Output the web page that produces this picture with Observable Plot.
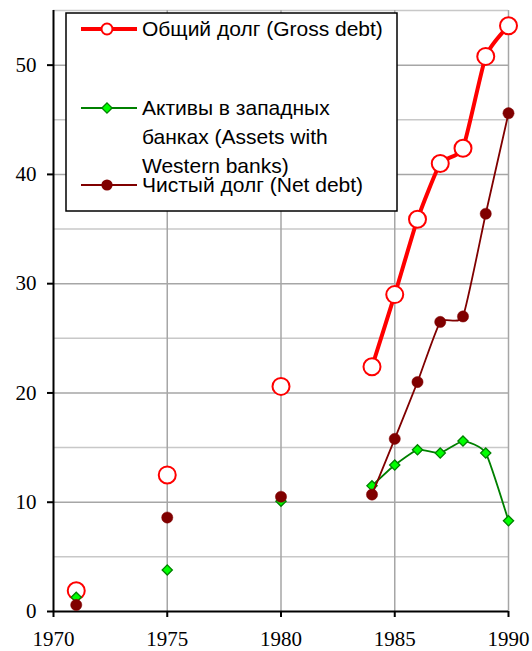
<!DOCTYPE html>
<html>
<head>
<meta charset="utf-8">
<script src="https://cdn.jsdelivr.net/npm/d3@7"></script>
<script src="https://cdn.jsdelivr.net/npm/@observablehq/plot@0.6"></script>
<style>
  html, body { margin: 0; padding: 0; background: white; }
  #chart { width: 532px; height: 651px; overflow: hidden; }
</style>
</head>
<body>
<div id="chart"></div>
<script>
// ---- data ----
const years = [1971, 1975, 1980, 1984, 1985, 1986, 1987, 1988, 1989, 1990];
const grossDebt = [1.9, 12.5, 20.6, 22.4, 29.0, 35.9, 41.0, 42.4, 50.8, 53.6];
const assetsWest = [1.3, 3.8, 10.1, 11.5, 13.4, 14.8, 14.5, 15.6, 14.5, 8.3];
const netDebt = [0.6, 8.6, 10.5, 10.7, 15.8, 21.0, 26.5, 27.0, 36.4, 45.6];
const lineStartYear = 1984;

const xTicks = [1970, 1975, 1980, 1985, 1990];
const xGrid = [1975, 1980, 1985, 1990];
const yTicks = [0, 10, 20, 30, 40, 50];
const yMajorGrid = [10, 20, 30, 40, 50];
const yMinorGrid = [5, 15, 25, 35, 45, 55];

const grossLabel = ["Общий долг (Gross debt)"];
const assetsLabel = ["Активы в западных", "банках (Assets with", "Western banks)"];
const netLabel = ["Чистый долг (Net debt)"];

// ---- tables ----
const gross = years.map((year, i) => ({year, value: grossDebt[i]}));
const assets = years.map((year, i) => ({year, value: assetsWest[i]}));
const net = years.map((year, i) => ({year, value: netDebt[i]}));
const fromStart = d => d.year >= lineStartYear;

const RED = "#ff0000", DARKRED = "#800000", GREEN = "#008000", LIME = "#00ff00";
const smooth = {curve: "cardinal", tension: 0.5};

const chart = Plot.plot({
  width: 532,
  height: 651,
  marginLeft: 53,
  marginRight: 24,
  marginTop: 10,
  marginBottom: 40,
  style: {background: "white", color: "black"},
  x: {domain: [1970, 1990]},
  y: {domain: [0, 55]},
  marks: [
    Plot.ruleY(yMinorGrid, {stroke: "#c8c8c8", strokeWidth: 1.5}),
    Plot.ruleY(yMajorGrid, {stroke: "#a6a6a6", strokeWidth: 1.5}),
    Plot.ruleX(xGrid, {stroke: "#a6a6a6", strokeWidth: 1.5}),
    Plot.ruleY([0], {stroke: "black", strokeWidth: 2}),
    Plot.ruleX([1970], {stroke: "black", strokeWidth: 2}),
    Plot.axisX(xTicks, {tickSize: 6, tickPadding: 14, strokeWidth: 2, fontSize: 21,
      fontFamily: "Liberation Serif", tickFormat: d => String(d), label: null}),
    Plot.axisY(yTicks, {tickSize: 6, tickPadding: 11, strokeWidth: 2, fontSize: 21,
      fontFamily: "Liberation Serif", tickFormat: d => String(d), label: null}),
    // gross debt
    Plot.line(gross.filter(fromStart), {x: "year", y: "value", stroke: RED, strokeWidth: 4, ...smooth}),
    Plot.dot(gross, {x: "year", y: "value", r: 8.5, fill: "white", stroke: RED, strokeWidth: 2}),
    // assets
    Plot.line(assets.filter(fromStart), {x: "year", y: "value", stroke: GREEN, strokeWidth: 1.8, ...smooth}),
    Plot.dot(assets, {x: "year", y: "value", symbol: "diamond2", r: 4.6, fill: LIME, stroke: GREEN, strokeWidth: 1.3}),
    // net debt
    Plot.line(net.filter(fromStart), {x: "year", y: "value", stroke: DARKRED, strokeWidth: 1.8, ...smooth}),
    Plot.dot(net, {x: "year", y: "value", r: 5.6, fill: DARKRED, stroke: DARKRED, strokeWidth: 0.5})
  ]
});

document.getElementById("chart").appendChild(chart);

// ---- legend (inside plot area, top-left) ----
const svg = d3.select(chart);
const lg = svg.append("g")
  .attr("font-family", "Liberation Sans, Arial, sans-serif")
  .attr("font-size", 21)
  .attr("text-anchor", "start")
  .attr("fill", "black");
lg.append("rect").attr("x", 66).attr("y", 13).attr("width", 331).attr("height", 198)
  .attr("fill", "white").attr("stroke", "black").attr("stroke-width", 1.5);

const entries = [
  {labels: grossLabel, y: 29, stroke: RED, sw: 4, marker: "circle"},
  {labels: assetsLabel, y: 108, stroke: GREEN, sw: 1.8, marker: "diamond"},
  {labels: netLabel, y: 185, stroke: DARKRED, sw: 1.8, marker: "dot"}
];
for (const e of entries) {
  lg.append("line").attr("x1", 81).attr("x2", 137).attr("y1", e.y).attr("y2", e.y)
    .attr("stroke", e.stroke).attr("stroke-width", e.sw);
  if (e.marker === "circle") {
    lg.append("circle").attr("cx", 107).attr("cy", e.y).attr("r", 5.5)
      .attr("fill", "white").attr("stroke", RED).attr("stroke-width", 2);
  } else if (e.marker === "diamond") {
    lg.append("path").attr("transform", `translate(107,${e.y})`)
      .attr("d", d3.symbol(d3.symbolDiamond2, Math.PI * 4.6 * 4.6)())
      .attr("fill", LIME).attr("stroke", GREEN).attr("stroke-width", 1.3);
  } else {
    lg.append("circle").attr("cx", 107).attr("cy", e.y).attr("r", 5.6).attr("fill", DARKRED);
  }
  e.labels.forEach((t, i) => {
    lg.append("text").attr("x", 142).attr("y", e.y + i * 29).attr("dy", "0.35em").text(t);
  });
}
</script>
</body>
</html>
